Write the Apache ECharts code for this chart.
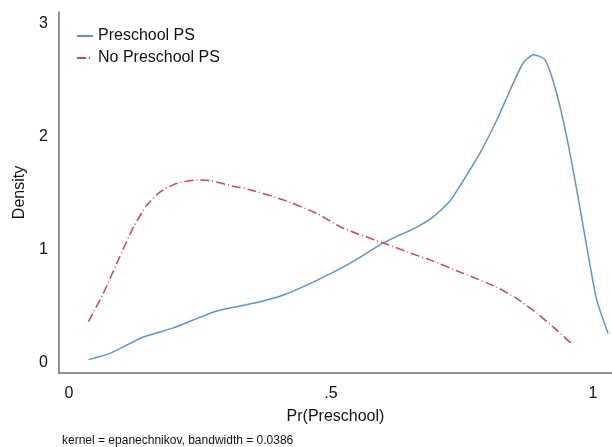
<!DOCTYPE html>
<html>
<head>
<meta charset="utf-8">
<script src="https://cdn.jsdelivr.net/npm/echarts@6/dist/echarts.min.js"></script>
<style>
html,body{margin:0;padding:0;background:#fff;}
#chart{width:612px;height:447px;}
</style>
</head>
<body>
<div id="chart"></div>
<script>
// Preschool PS kernel density
var preschoolX = [0.037,0.078,0.142,0.199,0.237,0.282,0.333,0.365,0.409,0.473,0.536,0.600,0.664,0.695,0.727,0.753,0.784,0.816,0.842,0.867,0.887,0.908,0.927,0.947,0.969,0.988,1.007,1.029];
var preschoolY = [0.03,0.085,0.23,0.31,0.38,0.46,0.51,0.54,0.60,0.73,0.88,1.06,1.20,1.29,1.43,1.615,1.85,2.14,2.41,2.65,2.72,2.68,2.44,2.06,1.53,1.03,0.56,0.26];
// No Preschool PS kernel density
var noPreschoolX = [0.037,0.065,0.097,0.123,0.148,0.174,0.205,0.244,0.269,0.314,0.345,0.409,0.473,0.523,0.600,0.664,0.689,0.753,0.816,0.854,0.893,0.931,0.959];
var noPreschoolY = [0.365,0.61,0.94,1.20,1.39,1.51,1.585,1.615,1.61,1.56,1.53,1.44,1.32,1.19,1.06,0.95,0.91,0.79,0.67,0.57,0.44,0.29,0.17];
// tick labels
var xTickValues = [0, 0.5, 1];
var xTickLabels = ['0', '.5', '1'];
var yTickValues = [0, 1, 2, 3];
var yTickLabels = ['0', '1', '2', '3'];
var seriesNames = ['Preschool PS', 'No Preschool PS'];
var noteText = 'kernel = epanechnikov, bandwidth = 0.0386';

function pairs(xs, ys) { return xs.map(function (x, i) { return [x, ys[i]]; }); }

var FONT = '"Liberation Sans", Arial, sans-serif';
var chart = echarts.init(document.getElementById('chart'), null, {renderer: 'canvas'});
chart.setOption({
  animation: false,
  backgroundColor: '#ffffff',
  grid: {left: 59, right: 0, top: 12, bottom: 74, containLabel: false, outerBoundsMode: 'none'},
  legend: {
    orient: 'vertical',
    left: 71, top: 23,
    itemWidth: 16, itemHeight: 14, itemGap: 6,
    itemStyle: {opacity: 0},
    textStyle: {fontFamily: FONT, fontSize: 16, color: '#111'},
    data: seriesNames
  },
  xAxis: {
    type: 'value',
    min: -0.0191, max: 1.0363,
    name: 'Pr(Preschool)',
    nameLocation: 'middle', nameGap: 36,
    nameTextStyle: {fontFamily: FONT, fontSize: 16, color: '#111'},
    axisLine: {show: true, onZero: false, lineStyle: {color: '#6e6e6e', width: 1.5}},
    axisTick: {show: false},
    splitLine: {show: false},
    axisLabel: {
      customValues: xTickValues,
      fontFamily: FONT, fontSize: 16, color: '#111', margin: 13,
      formatter: function (v) { var i = xTickValues.indexOf(v); return i >= 0 ? xTickLabels[i] : ''; }
    }
  },
  yAxis: {
    type: 'value',
    min: -0.088, max: 3.098,
    name: 'Density',
    nameLocation: 'middle', nameGap: 31,
    nameTextStyle: {fontFamily: FONT, fontSize: 16, color: '#111'},
    axisLine: {show: true, onZero: false, lineStyle: {color: '#6e6e6e', width: 1.5}},
    axisTick: {show: false},
    splitLine: {show: false},
    axisLabel: {
      customValues: yTickValues,
      fontFamily: FONT, fontSize: 16, color: '#111', margin: 11,
      formatter: function (v) { var i = yTickValues.indexOf(v); return i >= 0 ? yTickLabels[i] : ''; }
    }
  },
  graphic: [{
    type: 'text', left: 62, top: 435,
    style: {text: noteText, fontFamily: FONT, fontSize: 12, fill: '#111'}
  }],
  series: [{
    name: seriesNames[0], type: 'line', symbol: 'none', smooth: 0.2,
    data: pairs(preschoolX, preschoolY),
    itemStyle: {color: '#5a96d6'},
    lineStyle: {color: '#5a96d6', width: 1.5}
  }, {
    name: seriesNames[1], type: 'line', symbol: 'none', smooth: 0.2,
    data: pairs(noPreschoolX, noPreschoolY),
    itemStyle: {color: '#d0445c'},
    lineStyle: {color: '#d0445c', width: 1.5, type: [9, 3, 1, 3]}
  }]
});
</script>
</body>
</html>
